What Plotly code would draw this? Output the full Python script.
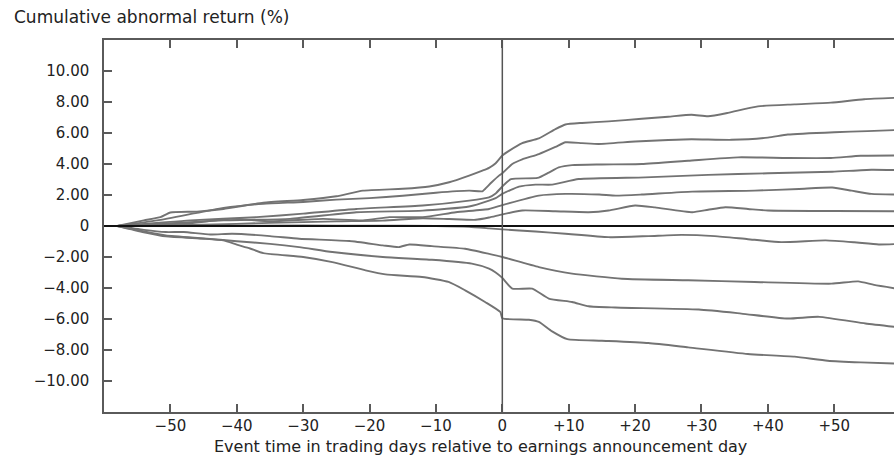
import plotly.graph_objects as go

# ---- data: cumulative abnormal return (%) by earnings-surprise portfolio ----
x_p1 = [-58, -54, -51.5, -50, -46, -42, -36, -30, -25, -21, -15, -11, -8, -5, -3, -2, -1, 0, 1, 3, 5.5, 8, 9.5, 12, 16, 21, 25, 28.5, 31, 34, 38.5, 44, 49.5, 54.5, 60]
y_p1 = [0, 0.36, 0.57, 0.87, 0.93, 1.10, 1.50, 1.68, 1.92, 2.28, 2.40, 2.55, 2.82, 3.25, 3.57, 3.75, 4.05, 4.55, 4.85, 5.35, 5.65, 6.25, 6.55, 6.65, 6.75, 6.92, 7.05, 7.18, 7.08, 7.30, 7.72, 7.85, 7.96, 8.18, 8.28]

x_p2 = [-58, -52, -46, -42, -36, -30, -25, -20, -15, -10, -5, -3, -2.6, -1.6, -0.5, 0, 1.5, 3, 5.5, 8, 9.5, 12, 14.5, 20, 25, 28.5, 34.5, 40, 43, 50, 55, 60]
y_p2 = [0, 0.36, 0.85, 1.17, 1.43, 1.55, 1.70, 1.80, 1.95, 2.15, 2.28, 2.24, 2.39, 2.82, 3.25, 3.40, 4.00, 4.30, 4.64, 5.10, 5.40, 5.35, 5.29, 5.45, 5.55, 5.60, 5.56, 5.70, 5.90, 6.05, 6.12, 6.20]

x_p3 = [-58, -47, -37, -30, -22, -12, -5, -2, -1, 0, 1.3, 5.3, 7, 8.5, 10.5, 15, 21, 28, 35.5, 43, 49.5, 54, 60]
y_p3 = [0, 0.36, 0.57, 0.80, 1.10, 1.32, 1.64, 1.85, 2.10, 2.55, 3.03, 3.10, 3.45, 3.78, 3.93, 3.97, 4.00, 4.21, 4.43, 4.39, 4.39, 4.53, 4.55]

x_p4 = [-58, -42, -32, -22, -12, -5, -2, -1, 0, 2.5, 5, 7.5, 11.5, 21.5, 31, 40, 49.7, 55.6, 60]
y_p4 = [0, 0.36, 0.46, 0.89, 0.99, 1.26, 1.64, 1.80, 2.07, 2.54, 2.67, 2.67, 3.03, 3.14, 3.30, 3.40, 3.50, 3.63, 3.60]

x_p5 = [-58, -47, -41, -35, -27, -21, -17, -12, -7, -2, 0, 5.5, 9.5, 14.6, 17.1, 21, 28.6, 38, 44.7, 49.7, 52.6, 55.6, 60]
y_p5 = [0, 0.18, 0.46, 0.31, 0.46, 0.36, 0.57, 0.57, 0.89, 1.10, 1.35, 1.96, 2.07, 2.03, 1.96, 2.03, 2.22, 2.28, 2.39, 2.48, 2.28, 2.07, 2.03]

x_p6 = [-58, -45, -35, -25, -18, -12, -8, -4, -2, 0, 3, 8, 13, 16, 20, 23, 28.6, 31, 33.6, 37, 40, 50, 60]
y_p6 = [0, 0.08, 0.20, 0.30, 0.35, 0.50, 0.45, 0.40, 0.55, 0.75, 1.00, 0.95, 0.89, 1.00, 1.32, 1.20, 0.89, 1.05, 1.21, 1.10, 1.00, 0.97, 0.95]

x_p7 = [-58, -45, -30, -20, -10, -5, -2, 0, 5, 9.5, 16, 22, 27, 32, 37, 42, 48.7, 53, 56.7, 60]
y_p7 = [0, 0.02, 0.03, 0.02, 0.0, -0.05, -0.15, -0.22, -0.35, -0.50, -0.72, -0.65, -0.57, -0.65, -0.85, -1.04, -0.93, -1.05, -1.19, -1.15]

x_p8 = [-58, -54, -50.7, -48, -44, -40.7, -35, -30.6, -23, -18, -15.6, -14, -10.6, -5.6, -2, 0, 5.5, 10.5, 18, 28, 38, 49.6, 53.6, 56, 60]
y_p8 = [0, -0.25, -0.39, -0.39, -0.55, -0.50, -0.65, -0.82, -0.97, -1.25, -1.36, -1.19, -1.30, -1.47, -1.80, -2.00, -2.65, -3.07, -3.40, -3.50, -3.61, -3.72, -3.57, -3.80, -4.08]

x_p9 = [-58, -54, -50.7, -45, -40, -35, -30.6, -25.6, -18, -10.6, -4.6, -2, -1, 0, 1.5, 4.5, 7, 10.5, 13, 17, 29.6, 36, 43, 47.7, 54.7, 60]
y_p9 = [0, -0.35, -0.61, -0.80, -0.98, -1.15, -1.36, -1.68, -2.00, -2.18, -2.43, -2.75, -3.00, -3.35, -4.04, -4.04, -4.68, -4.90, -5.18, -5.26, -5.39, -5.65, -5.97, -5.86, -6.29, -6.55]

x_p10 = [-58, -54, -50.7, -45, -42, -40, -38, -36, -30, -25.6, -20.6, -17.6, -12.1, -8.1, -5.6, -2.6, -0.3, 0, 4, 5.5, 7.5, 9.8, 15, 22, 28, 37, 44, 49, 54, 60]
y_p10 = [0, -0.40, -0.67, -0.82, -0.93, -1.20, -1.45, -1.75, -2.00, -2.33, -2.86, -3.12, -3.29, -3.61, -4.15, -4.90, -5.55, -5.95, -6.05, -6.19, -6.80, -7.30, -7.40, -7.55, -7.83, -8.26, -8.43, -8.69, -8.80, -8.88]

series_x = [x_p1, x_p2, x_p3, x_p4, x_p5, x_p6, x_p7, x_p8, x_p9, x_p10]
series_y = [y_p1, y_p2, y_p3, y_p4, y_p5, y_p6, y_p7, y_p8, y_p9, y_p10]

x_tickvals = [-50, -40, -30, -20, -10, 0, 10, 20, 30, 40, 50]
x_ticktext = ["\u221250", "\u221240", "\u221230", "\u221220", "\u221210", "0", "+10", "+20", "+30", "+40", "+50"]
y_tickvals = [10, 8, 6, 4, 2, 0, -2, -4, -6, -8, -10]
y_ticktext = ["10.00", "8.00", "6.00", "4.00", "2.00", "0", "\u22122.00", "\u22124.00", "\u22126.00", "\u22128.00", "\u221210.00"]

EVENT_DAY = 0
y_title = "Cumulative abnormal return (%)"
x_title = "Event time in trading days relative to earnings announcement day"

FONT = "DejaVu Sans"
AXIS_COLOR = "#5a5a5a"

fig = go.Figure()
for xs, ys in zip(series_x, series_y):
    fig.add_trace(go.Scatter(x=xs, y=ys, mode="lines",
                             line=dict(color="#737373", width=1.9, shape="spline", smoothing=0.5),
                             showlegend=False, hoverinfo="skip"))

fig.add_shape(type="line", xref="paper", x0=0, x1=1, yref="y", y0=0, y1=0,
              line=dict(color="#111111", width=2.2))
fig.add_shape(type="line", xref="x", x0=EVENT_DAY, x1=EVENT_DAY, yref="paper", y0=0, y1=1,
              line=dict(color="#555555", width=1.5))

fig.update_layout(
    width=894, height=455,
    margin=dict(l=104, r=0, t=40, b=43),
    paper_bgcolor="white", plot_bgcolor="white",
    font=dict(family=FONT, size=15, color="#222222"),
    xaxis=dict(range=[-60, 59], tickvals=x_tickvals, ticktext=x_ticktext,
               showline=True, linecolor=AXIS_COLOR, linewidth=1.5, mirror="ticks",
               ticks="inside", ticklen=8, tickwidth=1.5, tickcolor=AXIS_COLOR,
               showgrid=False, zeroline=False, ticklabelstandoff=-1,
               tickfont=dict(family=FONT, size=15, color="#222222")),
    yaxis=dict(range=[-12, 12], tickvals=y_tickvals, ticktext=y_ticktext,
               showline=True, linecolor=AXIS_COLOR, linewidth=1.5,
               ticks="inside", ticklen=8, tickwidth=1.5, tickcolor=AXIS_COLOR,
               showgrid=False, zeroline=False, ticklabelstandoff=10,
               tickfont=dict(family=FONT, size=15, color="#222222")),
    annotations=[
        dict(text=y_title, xref="paper", yref="paper", x=-0.1165, y=1.062,
             xanchor="left", yanchor="middle", showarrow=False,
             font=dict(family=FONT, size=17, color="#222222")),
        dict(text=x_title, xref="paper", yref="paper", x=0.477, y=-0.092,
             xanchor="center", yanchor="middle", showarrow=False,
             font=dict(family=FONT, size=16, color="#222222")),
    ],
)

fig.write_html("out.html")
